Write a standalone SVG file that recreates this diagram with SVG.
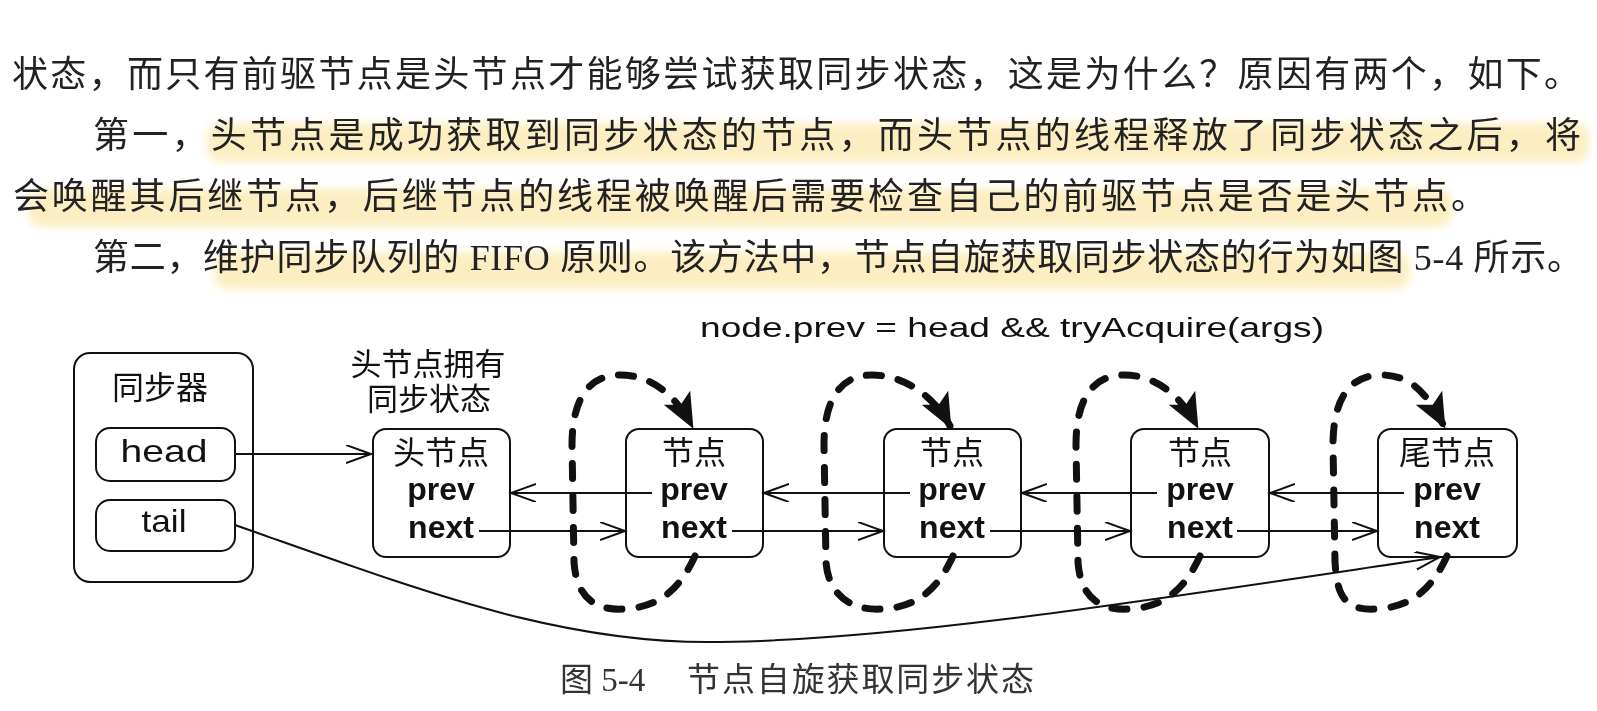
<svg xmlns="http://www.w3.org/2000/svg" width="1597" height="711" viewBox="0 0 1597 711">
<style>
.body{font-family:"Liberation Serif","Noto Sans CJK SC",serif;font-size:36px;fill:#222}
.cap{font-family:"Liberation Serif","Noto Sans CJK SC",serif;font-size:33px;fill:#333}
.lbl{font-family:"Liberation Sans","Noto Sans CJK SC",sans-serif;font-size:32px;fill:#111;text-anchor:middle}
.fld{font-family:"Liberation Sans",Arial,sans-serif;font-size:32px;font-weight:bold;fill:#111;text-anchor:middle}
.box{fill:#fff;stroke:#111;stroke-width:2}
.ln{fill:none;stroke:#111;stroke-width:2}
.loop{fill:none;stroke:#111;stroke-width:7;stroke-dasharray:15 17;stroke-linecap:round}
.hl{fill:#fbe8ad;opacity:0.75}
</style>
<defs>
<filter id="blur" x="-5%" y="-50%" width="110%" height="200%"><feGaussianBlur stdDeviation="4"/></filter>
<marker id="open" markerUnits="userSpaceOnUse" markerWidth="30" markerHeight="22" refX="25" refY="9" orient="auto"><path d="M0,0 L25,9 L0,18" fill="none" stroke="#111" stroke-width="2"/></marker>
<marker id="fat" markerUnits="userSpaceOnUse" markerWidth="40" markerHeight="34" refX="32" refY="15" orient="auto"><path d="M0,0 L35,15 L0,30 L8,15 z" fill="#111"/></marker>
</defs>
<rect width="1597" height="711" fill="#fff"/>
<g id="highlights" filter="url(#blur)">
<rect class="hl" x="207" y="123" width="1382" height="39" rx="14"/>
<rect class="hl" x="28" y="189" width="1424" height="38" rx="14"/>
<rect class="hl" x="214" y="252" width="1196" height="37" rx="14"/>
</g>
<g id="paragraph">
<text class="body" x="12" y="87" textLength="1568" lengthAdjust="spacing">状态，而只有前驱节点是头节点才能够尝试获取同步状态，这是为什么？原因有两个，如下。</text>
<text class="body" x="93" y="148" textLength="1488" lengthAdjust="spacing">第一，头节点是成功获取到同步状态的节点，而头节点的线程释放了同步状态之后，将</text>
<text class="body" x="13" y="209" textLength="1474" lengthAdjust="spacing">会唤醒其后继节点，后继节点的线程被唤醒后需要检查自己的前驱节点是否是头节点。</text>
<text class="body" x="93" y="270" textLength="1490" lengthAdjust="spacing">第二，维护同步队列的 FIFO 原则。该方法中，节点自旋获取同步状态的行为如图 5-4 所示。</text>
</g>
<g id="condition">
<text class="lbl" x="1012" y="337" textLength="624" lengthAdjust="spacingAndGlyphs" style="font-size:27px">node.prev = head &amp;&amp; tryAcquire(args)</text>
</g>
<g id="synchronizer">
<rect class="box" x="74" y="353" width="179" height="229" rx="16"/>
<text class="lbl" x="160" y="399">同步器</text>
<rect class="box" x="96" y="428" width="139" height="53" rx="14"/>
<text class="lbl" x="164" y="462" textLength="87" lengthAdjust="spacingAndGlyphs">head</text>
<rect class="box" x="96" y="500" width="139" height="51" rx="14"/>
<text class="lbl" x="164" y="532" textLength="45" lengthAdjust="spacingAndGlyphs">tail</text>
</g>
<g id="head-note">
<text class="lbl" x="428" y="375" style="font-size:31px">头节点拥有</text>
<text class="lbl" x="429" y="410" style="font-size:31px">同步状态</text>
</g>
<g id="node1">
<rect class="box" x="373" y="429" width="137" height="128" rx="13"/>
<text class="lbl" x="441" y="464">头节点</text>
<text class="fld" x="441" y="500">prev</text>
<text class="fld" x="441" y="538">next</text>
</g>
<g id="node2">
<rect class="box" x="626" y="429" width="137" height="128" rx="13"/>
<text class="lbl" x="694" y="464">节点</text>
<text class="fld" x="694" y="500">prev</text>
<text class="fld" x="694" y="538">next</text>
</g>
<g id="node3">
<rect class="box" x="884" y="429" width="137" height="128" rx="13"/>
<text class="lbl" x="952" y="464">节点</text>
<text class="fld" x="952" y="500">prev</text>
<text class="fld" x="952" y="538">next</text>
</g>
<g id="node4">
<rect class="box" x="1131" y="429" width="138" height="128" rx="13"/>
<text class="lbl" x="1200" y="464">节点</text>
<text class="fld" x="1200" y="500">prev</text>
<text class="fld" x="1200" y="538">next</text>
</g>
<g id="node5">
<rect class="box" x="1378" y="429" width="139" height="128" rx="13"/>
<text class="lbl" x="1447" y="464">尾节点</text>
<text class="fld" x="1447" y="500">prev</text>
<text class="fld" x="1447" y="538">next</text>
</g>
<g id="connectors">
<path class="ln" d="M235,454 L371,454" marker-end="url(#open)"/>
<path class="ln" d="M652,493 L511,493" marker-end="url(#open)"/>
<path class="ln" d="M910,493 L764,493" marker-end="url(#open)"/>
<path class="ln" d="M1157,493 L1022,493" marker-end="url(#open)"/>
<path class="ln" d="M1404,493 L1270,493" marker-end="url(#open)"/>
<path class="ln" d="M479,531 L625,531" marker-end="url(#open)"/>
<path class="ln" d="M732,531 L883,531" marker-end="url(#open)"/>
<path class="ln" d="M990,531 L1130,531" marker-end="url(#open)"/>
<path class="ln" d="M1237,531 L1377,531" marker-end="url(#open)"/>
<path class="ln" d="M235,525 C420,590 560,645 720,642 C900,640 1150,600 1440,557" marker-end="url(#open)"/>
<path class="loop" d="M695,556 C682,584 664,607 624,609 C590,611 576,592 574,562 L572,445 C572,400 588,375 620,375 C652,375 676,396 692,426" marker-end="url(#fat)"/>
<path class="loop" d="M953,556 C940,584 922,607 882,609 C848,611 828,592 826,562 L824,445 C824,400 840,375 872,375 C904,375 934,396 950,426" marker-end="url(#fat)"/>
<path class="loop" d="M1200,556 C1187,584 1169,607 1129,609 C1095,611 1080,592 1078,562 L1076,445 C1076,400 1092,375 1124,375 C1156,375 1181,396 1197,426" marker-end="url(#fat)"/>
<path class="loop" d="M1447,556 C1434,584 1416,607 1376,609 C1342,611 1337,592 1335,562 L1333,445 C1333,400 1349,375 1381,375 C1413,375 1428,396 1444,426" marker-end="url(#fat)"/>
</g>
<g id="caption">
<text class="cap" x="560" y="691">图 5-4</text>
<text class="cap" x="687" y="691" textLength="347" lengthAdjust="spacing">节点自旋获取同步状态</text>
</g>
</svg>
